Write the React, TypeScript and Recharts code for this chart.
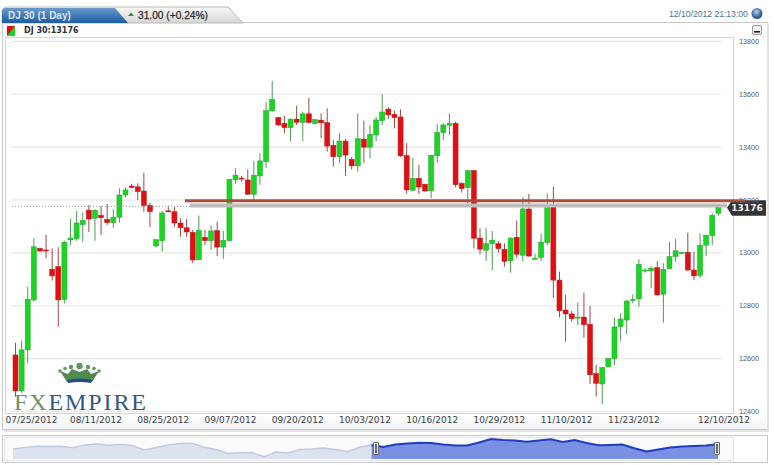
import { Area, AreaChart, Bar, CartesianGrid, ComposedChart, ReferenceLine, XAxis, YAxis } from 'recharts';

const opens = [
  12614, 12478, 12633, 12822, 13017, 13011, 12938, 12948, 12824, 13049, 13054, 13107, 13162, 13131, 13142, 13127,
  13114, 13135, 13219, 13253, 13250, 13234, 13180, 13026, 13046, 13159, 13156, 13113, 13095, 13078, 12974, 13059,
  13046, 13084, 13022, 13046, 13276, 13283, 13276, 13222, 13291, 13345, 13537, 13512, 13490, 13474, 13506, 13494,
  13526, 13489, 13502, 13493, 13407, 13364, 13423, 13354, 13329, 13430, 13400, 13446, 13500, 13544, 13524, 13514,
  13368, 13237, 13282, 13260, 13235, 13367, 13455, 13483, 13490, 13263, 13247, 13311, 13056, 13010, 13035, 13035,
  13014, 12970, 13059, 12991, 13166, 12976, 12982, 13039, 13181, 12897, 12784, 12769, 12754, 12757, 12730, 12544,
  12504, 12569, 12600, 12721, 12746, 12821, 12826, 12932, 12932, 12944, 12844, 12940, 12986, 12998, 13002, 12935,
  12915, 13029, 13065, 13150,
];
const closes = [
  12478, 12633, 12824, 13023, 13007, 13007, 12913, 12822, 13040, 13056, 13113, 13123, 13128, 13161, 13133, 13114,
  13135, 13219, 13238, 13247, 13232, 13179, 13156, 13050, 13151, 13155, 13113, 13095, 13079, 12973, 13085, 13046,
  13083, 13022, 13048, 13278, 13294, 13280, 13222, 13294, 13348, 13538, 13581, 13484, 13474, 13506, 13494, 13526,
  13493, 13504, 13492, 13404, 13364, 13423, 13370, 13329, 13432, 13400, 13449, 13503, 13533, 13522, 13512, 13367,
  13238, 13282, 13249, 13234, 13369, 13456, 13484, 13490, 13258, 13243, 13311, 13055, 13014, 13035, 13048, 13016,
  12968, 13056, 12995, 13166, 12988, 12980, 13041, 13184, 12897, 12781, 12769, 12751, 12757, 12728, 12539, 12507,
  12566, 12601, 12720, 12750, 12818, 12824, 12957, 12935, 12942, 12841, 12938, 12986, 13008, 13002, 12935, 12913,
  13029, 13067, 13142, 13176,
];
const highs = [
  12660, 12668, 12872, 13055, 13020, 13068, 13017, 13021, 13046, 13128, 13159, 13152, 13181, 13165, 13177, 13185,
  13165, 13244, 13248, 13261, 13263, 13303, 13190, 13051, 13159, 13179, 13173, 13131, 13128, 13087, 13141, 13087,
  13104, 13118, 13083, 13280, 13320, 13291, 13316, 13349, 13377, 13570, 13650, 13513, 13518, 13509, 13557, 13534,
  13587, 13507, 13528, 13547, 13427, 13453, 13431, 13362, 13528, 13500, 13484, 13515, 13600, 13551, 13537, 13543,
  13415, 13358, 13333, 13261, 13370, 13487, 13490, 13528, 13496, 13267, 13314, 13314, 13093, 13093, 13083, 13045,
  13036, 13059, 13122, 13210, 13223, 12996, 13074, 13225, 13250, 12929, 12841, 12781, 12812, 12849, 12799, 12576,
  12568, 12602, 12755, 12771, 12822, 12843, 12976, 12942, 12950, 12969, 12961, 13042, 13053, 13005, 13076, 13005,
  13074, 13068, 13150, 13178,
];
const lows = [
  12456, 12471, 12583, 12815, 13005, 12980, 12895, 12721, 12809, 13030, 13046, 13042, 13079, 13046, 13068, 13106,
  13095, 13114, 13210, 13244, 13200, 13156, 13097, 13021, 13005, 13154, 13097, 13061, 13061, 12961, 12973, 13030,
  13011, 12988, 12977, 13046, 13261, 13269, 13219, 13200, 13257, 13322, 13534, 13480, 13453, 13423, 13484, 13423,
  13490, 13487, 13434, 13383, 13326, 13339, 13291, 13316, 13307, 13341, 13358, 13423, 13484, 13506, 13471, 13362,
  13223, 13235, 13223, 13232, 13207, 13341, 13427, 13446, 13248, 13228, 13175, 13017, 12995, 12970, 12933, 13001,
  12948, 12925, 12980, 12967, 12986, 12973, 12970, 13030, 12829, 12756, 12664, 12740, 12727, 12679, 12504, 12456,
  12428, 12568, 12576, 12667, 12692, 12809, 12796, 12925, 12866, 12838, 12736, 12939, 12967, 12996, 12933, 12897,
  12905, 12988, 13030, 13141,
];

const priceTicks = [13800, 13600, 13400, 13200, 13000, 12800, 12600, 12400];
const dateLabels = ['07/25/2012', '08/11/2012', '08/25/2012', '09/07/2012', '09/20/2012', '10/03/2012', '10/16/2012', '10/29/2012', '11/10/2012', '11/23/2012', '12/10/2012'];
const dateSessions = [3, 13, 24, 35, 46, 57, 68, 79, 90, 101, 115];

const lastPrice = 13176;
const trendLevel = 13197;
const trendStart = 27.8;
const trendEnd = 119.4;

// overview strip, relative level of the whole history
const overviewLevels = [
  10, 11.5, 12.7, 12.5, 12.7, 11.3, 14, 15, 13.7, 14.5, 13.5, 9, 11.5, 14, 15.5, 15.7, 11.7, 9.5, 5.5, 6.3,
  6.5, 2.3, 7, 6, 9.5, 10, 11, 9.5, 7.3, 11.7, 14, 12, 14.5, 15.5, 16.3, 16, 14.5, 13.5, 13.5, 16.5,
  20, 19, 18.5, 17.3, 18.5, 19.7, 17, 19, 16, 13.7, 14, 14.5, 10.7, 7.5, 9.5, 11.5, 12.5, 13, 13.5, 14.7,
];
const overviewSelectedFrom = 30;

const candles = opens.map((open, i) => ({ i, open, close: closes[i], high: highs[i], low: lows[i] }));
const overview = overviewLevels.map((level, i) => ({
  i,
  past: i <= overviewSelectedFrom ? level : null,
  selected: i >= overviewSelectedFrom ? level : null,
}));

function Candle({ x, y, width, height, payload }: any) {
  const { open, close, high, low } = payload;
  const up = close >= open;
  const h = Math.abs(height);
  const top = Math.min(y, y + height);
  const perUnit = h / (high - low || 1);
  const bodyTop = top + (high - Math.max(open, close)) * perUnit;
  const bodyH = Math.max(Math.abs(open - close) * perUnit, 1);
  const mid = x + width / 2;
  return (
    <g>
      <line x1={mid} x2={mid} y1={top} y2={top + h} stroke={up ? '#4f9a55' : '#9a4a4a'} strokeWidth={1} />
      <rect x={x} y={bodyTop} width={width} height={bodyH} fill={up ? '#17d81f' : '#e20f12'} stroke={up ? '#2aa035' : '#b81a1a'} strokeWidth={0.5} />
    </g>
  );
}

function DateTick({ x, y, payload }: any) {
  const label = dateLabels[dateSessions.indexOf(payload.value)];
  // first and last labels are pushed to fixed spots by the original widget
  let px = x + 1.5;
  if (payload.value === 3) px = 31.5;
  if (payload.value === 115) px = 724;
  return (
    <text x={px} y={y} dy={3.5} textAnchor="middle" fontFamily="DejaVu Sans" fontSize={9} fill="#3a3f48">
      {label}
    </text>
  );
}

function PriceTag({ viewBox }: any) {
  const y = viewBox.y + 1.5;
  const x = 727;
  return (
    <g>
      <path d={`M${x} ${y} L${x + 5} ${y - 7.5} H766 V${y + 8} H${x + 5} Z`} fill="#333436" />
      <text x={747} y={y + 3.5} textAnchor="middle" fontFamily="DejaVu Sans" fontSize={9} fontWeight={600} fill="#f0f0f0">
        {lastPrice}
      </text>
    </g>
  );
}

function Handle({ left }: { left: number }) {
  return (
    <div style={{ position: 'absolute', left, top: 442, width: 4, height: 11, background: '#f4f4f4', border: '1px solid #667', borderRadius: 1 }}>
      <div style={{ position: 'absolute', left: 1, top: 1, width: 2, height: 9, background: '#667' }} />
    </div>
  );
}

function Chrome() {
  return (
    <svg width={774} height={465} style={{ position: 'absolute', left: 0, top: 0 }}>
      <defs>
        <linearGradient id="tabBlue" x1="0" y1="0" x2="0" y2="1">
          <stop offset="0%" stopColor="#6a9acb" />
          <stop offset="100%" stopColor="#1c5ca0" />
        </linearGradient>
        <linearGradient id="tabGrey" x1="0" y1="0" x2="0" y2="1">
          <stop offset="0%" stopColor="#f8f8f8" />
          <stop offset="100%" stopColor="#d6d6d6" />
        </linearGradient>
        <radialGradient id="globe" cx="0.45" cy="0.35" r="0.7">
          <stop offset="0%" stopColor="#b8cfe8" />
          <stop offset="60%" stopColor="#3d6fa8" />
          <stop offset="100%" stopColor="#27466e" />
        </radialGradient>
        <linearGradient id="stripe" x1="0" y1="0" x2="0" y2="1">
          <stop offset="0%" stopColor="#ffffff" />
          <stop offset="100%" stopColor="#f1f3f5" />
        </linearGradient>
      </defs>
      {/* main panel */}
      <rect x={2.5} y={22.5} width={765} height={407} fill="#ffffff" stroke="#c9c9c9" />
      <path d="M4 431 H768 V23" fill="none" stroke="#e3e3e3" strokeWidth={2} />
      <rect x={5.5} y={37.5} width={728} height={376} fill="#ffffff" stroke="#d4d4d4" />
      <rect x={6} y={414} width={760} height={15} fill="url(#stripe)" />
      {/* tabs */}
      <path d="M8 7 H228 L243 23 H2 V12 Q2 7 8 7 Z" fill="url(#tabGrey)" stroke="#b9b9b9" />
      <path d="M6 8 H115 L128 23 H2 V12 Q2 8 6 8 Z" fill="url(#tabBlue)" />
      <path d="M128 16 L131 12.5 L134 16 Z" fill="#2c8f3c" />
      <text x={8} y={19} fontFamily="Liberation Sans" fontSize={10} fontWeight={700} fill="#dbe7f5">DJ 30 (1 Day)</text>
      <text x={138} y={19} fontFamily="Liberation Sans" fontSize={10.2} fill="#2b2b2b" stroke="#2b2b2b" strokeWidth={0.25}>31.00 (+0.24%)</text>
      {/* series legend */}
      <rect x={7} y={26} width={8} height={10} fill="#17d81f" />
      <path d="M7 26 H15 L7 36 Z" fill="#e20f12" />
      <text x={24} y={33} fontFamily="DejaVu Sans" fontSize={8} fontWeight={700} fill="#2a3038">DJ 30:13176</text>
      {/* clock */}
      <text x={669} y={17} fontFamily="Liberation Sans" fontSize={8.6} fill="#44749f">12/10/2012 21:13:00</text>
      <circle cx={757} cy={13.5} r={5.5} fill="url(#globe)" />
      <rect x={752.5} y={25.5} width={9} height={9} rx={1.5} fill="#f2f2f2" stroke="#9a9a9a" />
      <rect x={754} y={31} width={6} height={1.6} fill="#222" />
      {/* overview panel */}
      <rect x={2.5} y={435.5} width={765} height={27} fill="#ffffff" stroke="#c9c9c9" />
      <rect x={4.5} y={437.5} width={729} height={23} fill="#fbfbfb" stroke="#e4e4e4" />
      {/* logo */}
      <g>
        <path d="M60 371 L68 374 L72 369 L79.5 372 L87 369 L91 374 L99 371 L92 382 Q79.5 379 67 382 Z" fill="#4f8a52" />
        <circle cx={60} cy={371} r={1.8} fill="#5f9a5e" />
        <circle cx={65} cy={368.5} r={1.8} fill="#5f9a5e" />
        <circle cx={71} cy={367} r={2.2} fill="#5f9a5e" />
        <circle cx={79.5} cy={366} r={3.2} fill="#5f9a5e" />
        <circle cx={88} cy={367} r={2.2} fill="#5f9a5e" />
        <circle cx={94} cy={368.5} r={1.8} fill="#5f9a5e" />
        <circle cx={99} cy={371} r={1.8} fill="#5f9a5e" />
        <path d="M67 380 Q79.5 377 92 380 L91 383 Q79.5 381 68 383 Z" fill="#254f7b" />
      </g>
      <text y={409.5} fontFamily="Liberation Serif" fontSize={24} letterSpacing={1.9}>
        <tspan x={14} fill="#6f9462">FX</tspan>
        <tspan fill="#2d5a80">EMPIRE</tspan>
      </text>
    </svg>
  );
}

export default function App() {
  return (
    <div style={{ position: 'absolute', left: 0, top: 0, width: 774, height: 465, overflow: 'hidden', background: '#ffffff' }}>
      <Chrome />
      <div style={{ position: 'absolute', left: 0, top: 0 }}>
        <ComposedChart width={774} height={465} data={candles} margin={{ top: 41.4, right: 13, bottom: 33.5, left: 12 }}>
          <CartesianGrid vertical={false} stroke="#e6e6e6" strokeWidth={1.2} />
          <XAxis
            dataKey="i"
            type="number"
            domain={[-0.5, 115.5]}
            ticks={dateSessions}
            interval={0}
            height={20}
            axisLine={false}
            tickLine={false}
            tick={<DateTick />}
          />
          <YAxis
            orientation="right"
            domain={[12400, 13800]}
            ticks={priceTicks}
            interval={0}
            width={40}
            axisLine={false}
            tickLine={false}
            tickMargin={12}
            tick={{ fill: '#5a6068', fontSize: 7.2, fontFamily: 'Liberation Sans' }}
          />
          <ReferenceLine y={lastPrice} stroke="#9a9a9a" strokeDasharray="1 2" label={<PriceTag />} />
          <ReferenceLine
            segment={[{ x: trendStart + 0.8, y: trendLevel - 18 }, { x: 116.5, y: trendLevel - 18 }]}
            stroke="#bdbdbd"
            strokeWidth={4}
            ifOverflow="visible"
          />
          <Bar dataKey={(d: any) => [d.low, d.high]} barSize={5} shape={<Candle />} isAnimationActive={false} />
          <ReferenceLine
            segment={[{ x: trendStart, y: trendLevel }, { x: trendEnd, y: trendLevel }]}
            stroke="#ae4c3a"
            strokeWidth={3}
            ifOverflow="visible"
          />
        </ComposedChart>
      </div>
      <div style={{ position: 'absolute', left: 0, top: 434 }}>
        <AreaChart width={774} height={31} data={overview} margin={{ top: 3, right: 56, bottom: 6, left: 13 }}>
          <XAxis dataKey="i" type="number" domain={[0, 59]} hide />
          <YAxis domain={[0, 22]} hide />
          <Area dataKey="past" type="linear" stroke="#c3cbe0" strokeWidth={1.5} fill="#dde2f1" fillOpacity={1} connectNulls={false} dot={false} isAnimationActive={false} />
          <Area dataKey="selected" type="linear" stroke="#1f3fbf" strokeWidth={2} fill="#7a90e2" fillOpacity={1} connectNulls={false} dot={false} isAnimationActive={false} />
        </AreaChart>
      </div>
      <Handle left={373} />
      <Handle left={714} />
    </div>
  );
}
